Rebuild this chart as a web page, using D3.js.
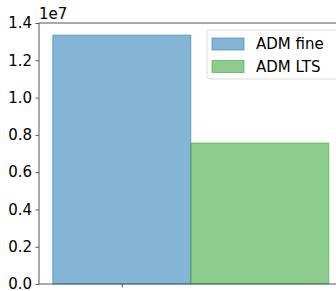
<!DOCTYPE html>
<html><head><meta charset="utf-8">
<script src="https://cdn.jsdelivr.net/npm/d3@7"></script>
<style>body{margin:0;background:#fff;} svg{display:block;font-family:"DejaVu Sans",sans-serif;}</style>
</head><body>
<svg id="c" width="336" height="291"></svg>
<script>
const series = ["ADM fine", "ADM LTS"];
const values = [13350000, 7560000];
const fills = ["#1f77b4", "#2ca02c"];
const yTicks = [0, 0.2e7, 0.4e7, 0.6e7, 0.8e7, 1.0e7, 1.2e7, 1.4e7];
const barPos = [0, 1];

(function () {
const svg = d3.select("#c");
const mLeft = 39, mTop = 23, mBottom = 284;
const w = 138;
const x = d3.scaleLinear().domain([-0.6, 1.6]).range([mLeft, mLeft + 2.2 * w]);
const y = d3.scaleLinear().domain([0, 1.4e7]).range([mBottom, mTop]);
const op = 0.55;

svg.selectAll("rect.bar").data(values).enter().append("rect")
  .attr("x", (d, i) => x(barPos[i] - 0.5))
  .attr("y", d => y(d))
  .attr("width", (d, i) => x(barPos[i] + 0.5) - x(barPos[i] - 0.5))
  .attr("height", d => y(0) - y(d))
  .attr("fill", (d, i) => fills[i]).attr("fill-opacity", op)
  .attr("stroke", (d, i) => fills[i]).attr("stroke-opacity", op).attr("stroke-width", 1);

svg.append("line").attr("x1", mLeft).attr("x2", 336).attr("y1", mTop).attr("y2", mTop).attr("stroke", "#555").attr("stroke-width", 1);
svg.append("line").attr("x1", mLeft).attr("x2", 336).attr("y1", mBottom).attr("y2", mBottom).attr("stroke", "#555").attr("stroke-width", 1);
svg.append("line").attr("x1", mLeft).attr("x2", mLeft).attr("y1", mTop).attr("y2", mBottom).attr("stroke", "#555").attr("stroke-width", 1);

const ya = d3.axisLeft(y).tickValues(yTicks).tickFormat(d => (d / 1e7).toFixed(1)).tickSize(3.5).tickPadding(3.5);
const gy = svg.append("g").attr("transform", `translate(${mLeft},0)`).call(ya);
gy.select(".domain").remove();
gy.selectAll("line").attr("stroke", "#555");
gy.selectAll("text").attr("font-size", 15).attr("fill", "#000").attr("font-family", "DejaVu Sans");

const xa = d3.axisBottom(x).tickValues([0]).tickFormat("").tickSize(3.5);
const gx = svg.append("g").attr("transform", `translate(0,${mBottom})`).call(xa);
gx.select(".domain").remove();
gx.selectAll("line").attr("stroke", "#555");

svg.append("text").attr("x", mLeft).attr("y", 19).attr("font-size", 15).text("1e7");

const lg = svg.append("g");
lg.append("rect").attr("x", 207).attr("y", 30).attr("width", 140).attr("height", 49).attr("rx", 3)
  .attr("fill", "#fff").attr("fill-opacity", 0.8).attr("stroke", "#ddd");
series.forEach((s, i) => {
  const yy = 38 + i * 22.5;
  lg.append("rect").attr("x", 212).attr("y", yy).attr("width", 32).attr("height", 12)
    .attr("fill", fills[i]).attr("fill-opacity", op).attr("stroke", fills[i]).attr("stroke-opacity", op);
  lg.append("text").attr("x", 256).attr("y", yy + 11).attr("font-size", 15).text(s);
});
})();
</script>
</body></html>
